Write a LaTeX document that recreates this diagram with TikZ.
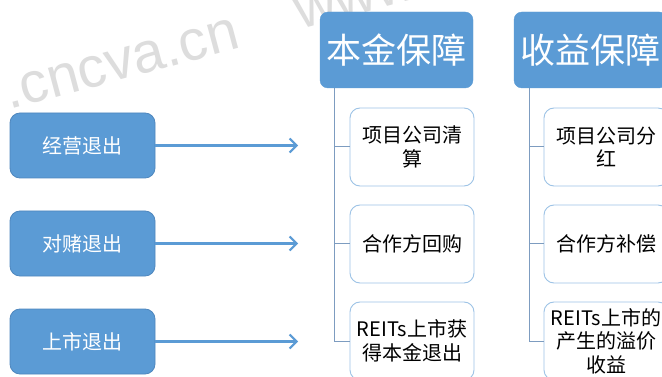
\documentclass[tikz,border=0pt]{standalone}
\usepackage{fontspec}
\setmainfont{Noto Sans CJK SC}
\newfontfamily\wmfont{Liberation Sans}
\usetikzlibrary{arrows.meta}
\definecolor{boxblue}{HTML}{5B9BD5}
\definecolor{boxedge}{HTML}{4F87BE}
\definecolor{childedge}{HTML}{9DC3E6}
\definecolor{linkgray}{HTML}{7D9CC0}
\definecolor{wmgray}{HTML}{DDDDDD}
\tikzset{
  exitbox/.style={draw=boxedge, line width=0.8pt, fill=boxblue, rounded corners=10pt,
    minimum width=145pt, minimum height=65pt, inner sep=0pt, text=white,
    font=\fontsize{20}{23}\selectfont},
  headbox/.style={fill=boxblue, draw=boxblue, rounded corners=8pt,
    minimum width=153pt, minimum height=76pt, inner sep=0pt, text=white,
    font=\fontsize{35}{38}\selectfont},
  childbox/.style={draw=childedge, line width=0.9pt, fill=white, rounded corners=10pt,
    minimum width=124pt, minimum height=78pt, inner sep=0pt, align=center,
    font=\fontsize{20}{23.5}\selectfont},
  flowarrow/.style={draw=boxblue, line width=2.2pt,
    -{Straight Barb[length=7pt, width=14pt, line width=2pt]}},
  branch/.style={draw=linkgray, line width=1pt},
  wmark/.style={rotate=15, anchor=base west, inner sep=0pt, text=wmgray,
    font=\fontsize{57}{57}\selectfont\wmfont}
}
\begin{document}
\begin{tikzpicture}[x=1pt, y=-1pt]
\useasboundingbox (0,0) rectangle (662,377);
\clip (0,0) rectangle (662,377);
\fill[white] (0,0) rectangle (662,377);
% watermark
\node[wmark] (wm1) at (9,110) {.cncva.cn};
\node[wmark] (wm2) at (300,30) {www};
% exit boxes
\node[exitbox] (l1) at (82.5,145.5) {经营退出};
\node[exitbox] (l2) at (82.5,243.5) {对赌退出};
\node[exitbox] (l3) at (82.5,341.5) {上市退出};
\coordinate (a1) at (298,145.5);
\coordinate (a2) at (298,243.5);
\coordinate (a3) at (298,341.5);
\draw[flowarrow] (l1.east) -- (a1);
\draw[flowarrow] (l2.east) -- (a2);
\draw[flowarrow] (l3.east) -- (a3);
% headers
\node[headbox] (h1) at (396.5,50) {本金保障};
\node[headbox] (h2) at (590.5,50) {收益保障};
% children
\node[childbox] (c11) at (412,147) {项目公司清\\算};
\node[childbox] (c12) at (412,244) {合作方回购};
\node[childbox] (c13) at (412,341) {REITs上市获\\得本金退出};
\node[childbox] (c21) at (606,147) {项目公司分\\红};
\node[childbox] (c22) at (606,244) {合作方补偿};
\node[childbox] (c23) at (606,341) {REITs上市的\\产生的溢价\\收益};
% trunk lines
\coordinate (t1) at (334,88);
\coordinate (t2) at (529,88);
\draw[branch] (t1) |- (c11.west);
\draw[branch] (t1) |- (c12.west);
\draw[branch] (t1) |- (c13.west);
\draw[branch] (t2) |- (c21.west);
\draw[branch] (t2) |- (c22.west);
\draw[branch] (t2) |- (c23.west);
\end{tikzpicture}
\end{document}
